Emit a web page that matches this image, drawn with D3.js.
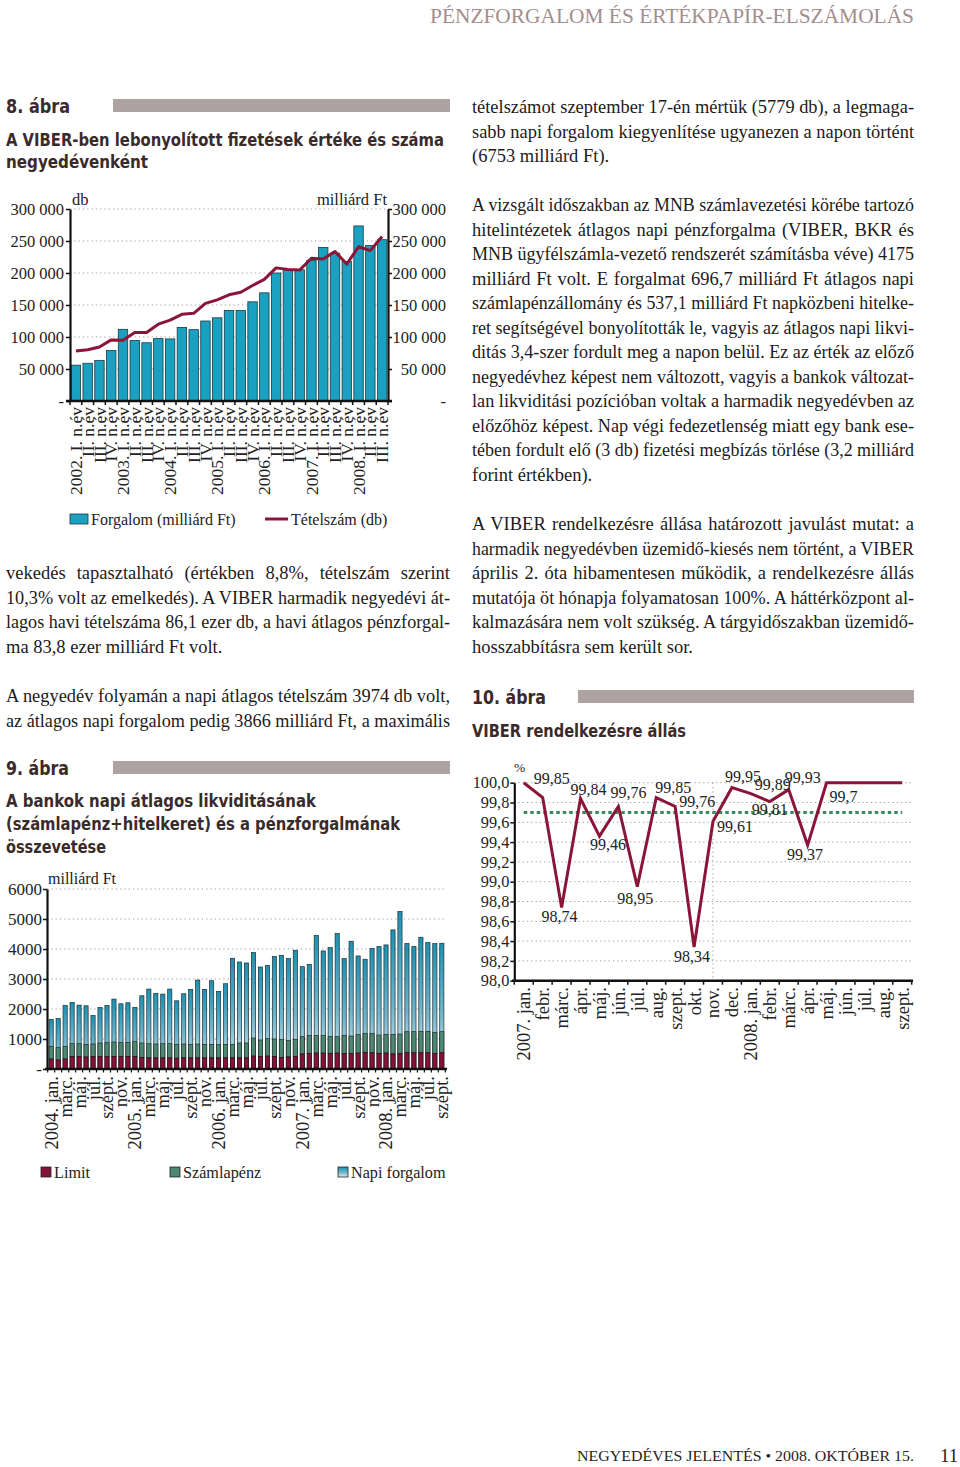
<!DOCTYPE html>
<html><head><meta charset="utf-8">
<script src="https://cdn.jsdelivr.net/npm/d3@7"></script>
<style>body{margin:0;background:#fff}svg{display:block}</style>
</head><body>
<svg id="page" width="960" height="1467"></svg>
<script>
// ---------------- DATA ----------------
// Chart 8 (quarterly)
const quarters = ["2002. I. n.év","II. n.év","III. n.év","IV. n.év","2003. I. n.év","II. n.év","III. n.év","IV. n.év",
  "2004. I. n.év","II. n.év","III. n.év","IV. n.év","2005. I. n.év","II. n.év","III. n.év","IV. n.év",
  "2006. I. n.év","II. n.év","III. n.év","IV. n.év","2007. I. n.év","II. n.év","III. n.év","IV. n.év",
  "2008. I. n.év","II. n.év","III. n.év"];
const forgalom = [56000,59000,63500,79000,112000,94500,91000,97500,97000,115000,111500,125000,130000,141500,141500,155000,
  169000,200000,205000,205000,219500,240000,231000,218000,273500,243000,252000];
const tetelszam = [78000,80000,84500,95500,95000,107000,107000,120000,126500,135500,137000,152500,158000,166000,170000,180500,
  190000,208000,205500,204500,223000,222000,233500,214000,241000,235000,257000];
const yTicks8 = [0,50000,100000,150000,200000,250000,300000];
const yTickLabels8 = ["-","50 000","100 000","150 000","200 000","250 000","300 000"];

// Chart 9 (monthly 2004 jan - 2008 szept)
const monthNames = ["jan.","febr.","márc.","ápr.","máj.","jún.","júl.","aug.","szept.","okt.","nov.","dec."];
const years9 = ["2004.","2005.","2006.","2007.","2008."];
const limit = [330,300,330,410,410,400,410,410,410,420,410,420,410,380,370,370,370,370,360,370,370,370,370,370,370,370,370,370,370,
  430,420,430,420,380,400,420,500,520,530,530,520,530,510,520,530,550,540,520,530,500,510,540,540,540,540,520,540];
const szamlapenz = [426,411,426,434,434,422,423,457,468,480,468,469,501,487,474,463,474,474,463,462,452,463,452,452,441,452,452,497,497,
  603,547,581,580,609,556,569,578,602,581,592,569,548,612,580,614,639,649,613,626,656,657,704,704,716,716,702,704];
const napiForgalom = [1650,1683,2118,2218,2129,2107,1784,2051,2118,2330,2174,2207,2051,2441,2664,2520,2497,2664,2274,2508,
  2653,2965,2653,2943,2586,2843,3690,3567,3534,3880,3400,3456,3746,3790,3679,3958,3411,3490,4448,3935,
  4047,4515,3679,4259,3768,3657,4013,4080,4136,4638,5251,4181,4080,4392,4214,4181,4192];
const yTicks9 = [0,1000,2000,3000,4000,5000,6000];
const yTickLabels9 = ["-","1000","2000","3000","4000","5000","6000"];

// Chart 10 (monthly availability)
const months10 = ["2007. jan.","febr.","márc.","ápr.","máj.","jún.","júl.","aug.","szept.","okt.","nov.","dec.",
  "2008. jan.","febr.","márc.","ápr.","máj.","jún.","júl.","aug.","szept."];
const availability = [100,99.85,98.74,99.84,99.46,99.76,98.95,99.85,99.76,98.34,99.61,99.95,99.89,99.81,99.93,99.37,100,100,100,100,100];
const valueLabels10 = [null,"99,85","98,74","99,84","99,46","99,76","98,95","99,85","99,76","98,34","99,61","99,95","99,89","99,81","99,93","99,37",null,null,null,null,null];
const target10 = 99.7;
const targetLabel10 = "99,7";
const yTicks10 = [98.0,98.2,98.4,98.6,98.8,99.0,99.2,99.4,99.6,99.8,100.0];

// Page text
const rightPara1 = ["tételszámot szeptember 17-én mértük (5779 db), a legmaga-","sabb napi forgalom kiegyenlítése ugyanezen a napon történt","(6753 milliárd Ft)."];
const rightPara2 = ["A vizsgált időszakban az MNB számlavezetési körébe tartozó","hitelintézetek átlagos napi pénzforgalma (VIBER, BKR és",
 "MNB ügyfélszámla-vezető rendszerét számításba véve) 4175","milliárd Ft volt. E forgalmat 696,7 milliárd Ft átlagos napi",
 "számlapénzállomány és 537,1 milliárd Ft napközbeni hitelke-","ret segítségével bonyolították le, vagyis az átlagos napi likvi-",
 "ditás 3,4-szer fordult meg a napon belül. Ez az érték az előző","negyedévhez képest nem változott, vagyis a bankok változat-",
 "lan likviditási pozícióban voltak a harmadik negyedévben az","előzőhöz képest. Nap végi fedezetlenség miatt egy bank ese-",
 "tében fordult elő (3 db) fizetési megbízás törlése (3,2 milliárd","forint értékben)."];
const rightPara3 = ["A VIBER rendelkezésre állása határozott javulást mutat: a","harmadik negyedévben üzemidő-kiesés nem történt, a VIBER",
 "április 2. óta hibamentesen működik, a rendelkezésre állás","mutatója öt hónapja folyamatosan 100%. A háttérközpont al-",
 "kalmazására nem volt szükség. A tárgyidőszakban üzemidő-","hosszabbításra sem került sor."];
const leftPara1 = ["vekedés tapasztalható (értékben 8,8%, tételszám szerint","10,3% volt az emelkedés). A VIBER harmadik negyedévi át-",
 "lagos havi tételszáma 86,1 ezer db, a havi átlagos pénzforgal-","ma 83,8 ezer milliárd Ft volt."];
const leftPara2 = ["A negyedév folyamán a napi átlagos tételszám 3974 db volt,","az átlagos napi forgalom pedig 3866 milliárd Ft, a maximális"];

// ---------------- HELPERS ----------------
const SERIF = "'Liberation Serif','Times New Roman',serif";
const HEAD = "'Liberation Sans Narrow','DejaVu Sans Condensed','Open Sans',sans-serif";
const BODY = 18.5, TICK = 16.5, XLAB = 18.5;
const svg = d3.select("#page");
svg.append("rect").attr("width",960).attr("height",1467).attr("fill","#fff");

function txt(g, str, x, y, o = {}) {
  const t = g.append("text").attr("x", x).attr("y", y).text(str)
    .attr("font-family", o.family || SERIF).attr("font-size", o.size || BODY)
    .attr("fill", o.fill || "#1d1a1a");
  if (o.weight) t.attr("font-weight", o.weight);
  if (o.anchor) t.attr("text-anchor", o.anchor);
  if (o.width) {
    const L = t.node().getComputedTextLength();
    const n = (str.match(/ /g) || []).length;
    if (o.fit || n === 0 || o.width - L < 0) {
      t.attr("textLength", o.width).attr("lengthAdjust", "spacingAndGlyphs");
    } else {
      t.attr("word-spacing", (o.width - L) / n);
    }
  }
  return t;
}
function para(lines, x, y0, width, lastJustified) {
  lines.forEach((s, i) => {
    const last = i === lines.length - 1 && !lastJustified;
    txt(svg, s, x, y0 + i * 24.5, last ? {} : { width: width });
  });
}
function heading(str, x, y, w, size) {
  txt(svg, str, x, y, { family: HEAD, weight: "bold", size: size || 18.5, fill: "#3a2b2b", width: w, fit: true });
}
function grayBar(x1, x2, y) {
  svg.append("rect").attr("x", x1).attr("y", y).attr("width", x2 - x1).attr("height", 13).attr("fill", "#aca3a2");
}
function bandEdges(sc) {
  const gap = sc.step() - sc.bandwidth();
  const d = sc.domain();
  const e = d.map(v => sc(v) - gap / 2);
  e.push(sc(d[d.length - 1]) + sc.bandwidth() + gap / 2);
  return e;
}

// ---------------- PAGE TEXT ----------------
txt(svg, "PÉNZFORGALOM ÉS ÉRTÉKPAPÍR-ELSZÁMOLÁS", 430, 23, { size: 21, fill: "#a38d8d", width: 484, fit: true });
para(rightPara1, 472, 113, 442);
para(rightPara2, 472, 211, 442);
para(rightPara3, 472, 530, 442);
para(leftPara1, 6, 579, 444);
para(leftPara2, 6, 702, 444, true);

grayBar(113, 450, 99);
heading("8. ábra", 6, 113, 64, 19.5);
heading("A VIBER-ben lebonyolított fizetések értéke és száma", 6, 146, 438);
heading("negyedévenként", 6, 168, 142);

grayBar(113, 450, 761);
heading("9. ábra", 6, 775, 63, 19.5);
heading("A bankok napi átlagos likviditásának", 6, 807, 310);
heading("(számlapénz+hitelkeret) és a pénzforgalmának", 6, 830, 394);
heading("összevetése", 6, 853, 100);

grayBar(578, 914, 690);
heading("10. ábra", 472, 704, 74, 19.5);
heading("VIBER rendelkezésre állás", 472, 737, 214);

txt(svg, "NEGYEDÉVES JELENTÉS • 2008. OKTÓBER 15.", 577, 1461, { size: 15.5, fill: "#2a2222", width: 337, fit: true });
txt(svg, "11", 940, 1462, { size: 19, fill: "#2a2222" });

function styleAxis(g, size) {
  g.selectAll("text").attr("font-family", SERIF).attr("font-size", size || TICK).attr("fill", "#222");
  g.selectAll(".tick line").attr("stroke", "#111").attr("stroke-width", 1.5);
  g.select(".domain").attr("stroke", "#111").attr("stroke-width", 2.2);
}

// ---------------- CHART 8 ----------------
{
  const g = svg.append("g");
  const x = d3.scaleBand().domain(d3.range(quarters.length)).range([70, 388]).paddingInner(0.2).paddingOuter(0.1);
  const y = d3.scaleLinear().domain([0, 300000]).range([401, 209]);
  g.selectAll("line.grid").data(yTicks8.filter(d => d > 0)).join("line")
    .attr("x1", 70).attr("x2", 388).attr("y1", d => y(d)).attr("y2", d => y(d))
    .attr("stroke", "#a0a0a0").attr("stroke-width", 1).attr("stroke-dasharray", "1.3,3");
  g.selectAll("rect.bar").data(forgalom).join("rect")
    .attr("x", (d, i) => x(i)).attr("width", x.bandwidth())
    .attr("y", d => y(d)).attr("height", d => y(0) - y(d))
    .attr("fill", "#1aa1c2").attr("stroke", "#1b3a42").attr("stroke-width", 0.8);
  g.append("path").datum(tetelszam)
    .attr("d", d3.line().x((d, i) => x(i) + x.bandwidth() / 2).y(d => y(d)))
    .attr("fill", "none").attr("stroke", "#8b1538").attr("stroke-width", 3).attr("stroke-linejoin", "round");
  const aL = g.append("g").attr("transform", "translate(70,0)")
    .call(d3.axisLeft(y).tickValues(yTicks8).tickFormat((d, i) => yTickLabels8[i]).tickSize(4).tickSizeOuter(0).tickPadding(2));
  styleAxis(aL);
  const aR = g.append("g").attr("transform", "translate(388,0)")
    .call(d3.axisRight(y).tickValues(yTicks8).tickFormat((d, i) => yTickLabels8[i]).tickSize(4).tickSizeOuter(0));
  styleAxis(aR);
  aR.selectAll("text").attr("text-anchor", "end").attr("x", 58);
  // bottom axis
  g.append("line").attr("x1", 66).attr("x2", 392).attr("y1", y(0)).attr("y2", y(0)).attr("stroke", "#111").attr("stroke-width", 2.5);
  g.selectAll("line.xt").data(bandEdges(x)).join("line")
    .attr("x1", d => d).attr("x2", d => d).attr("y1", y(0)).attr("y2", y(0) + 4).attr("stroke", "#111").attr("stroke-width", 1.5);
  g.selectAll("text.xl").data(quarters).join("text")
    .attr("transform", (d, i) => `translate(${x(i) + x.bandwidth() / 2},407) rotate(-90)`)
    .attr("text-anchor", "end").attr("dy", "0.35em")
    .attr("font-family", SERIF).attr("font-size", 17.5).attr("fill", "#222").text(d => d);
  txt(g, "db", 72, 205, { size: 16.5, fill: "#222" });
  txt(g, "milliárd Ft", 387, 205, { size: 16.5, fill: "#222", anchor: "end" });
  // legend
  g.append("rect").attr("x", 70).attr("y", 514).attr("width", 18).attr("height", 10)
    .attr("fill", "#1aa1c2").attr("stroke", "#1b3a42").attr("stroke-width", 0.8);
  txt(g, "Forgalom (milliárd Ft)", 91, 525, { size: 16, fill: "#222" });
  g.append("line").attr("x1", 265).attr("x2", 288).attr("y1", 519).attr("y2", 519).attr("stroke", "#8b1538").attr("stroke-width", 3);
  txt(g, "Tételszám (db)", 291, 525, { size: 16, fill: "#222" });
}

// ---------------- CHART 9 ----------------
{
  const defs = svg.append("defs");
  const grad = defs.append("linearGradient").attr("id", "blueGrad").attr("x1", 0).attr("y1", 0).attr("x2", 0).attr("y2", 1);
  grad.append("stop").attr("offset", 0).attr("stop-color", "#1c91b2");
  grad.append("stop").attr("offset", 0.55).attr("stop-color", "#6fb5cc");
  grad.append("stop").attr("offset", 1).attr("stop-color", "#dbecf3");
  const months9 = [];
  years9.forEach(yr => monthNames.forEach((m, k) => months9.push(k === 0 ? yr + " " + m : m)));
  months9.length = napiForgalom.length;
  const g = svg.append("g");
  const x = d3.scaleBand().domain(d3.range(napiForgalom.length)).range([47, 446]).paddingInner(0.4).paddingOuter(0.3);
  const y = d3.scaleLinear().domain([0, 6000]).range([1069, 889]);
  g.selectAll("line.grid").data(yTicks9.filter(d => d > 0)).join("line")
    .attr("x1", 47).attr("x2", 446).attr("y1", d => y(d)).attr("y2", d => y(d))
    .attr("stroke", "#a0a0a0").attr("stroke-width", 1).attr("stroke-dasharray", "1.3,3");
  g.selectAll("rect.nf").data(napiForgalom).join("rect")
    .attr("x", (d, i) => x(i)).attr("width", x.bandwidth()).attr("y", d => y(d)).attr("height", d => y(0) - y(d))
    .attr("fill", "url(#blueGrad)").attr("stroke", "#1e2e33").attr("stroke-width", 0.7);
  g.selectAll("rect.sz").data(szamlapenz).join("rect")
    .attr("x", (d, i) => x(i)).attr("width", x.bandwidth())
    .attr("y", (d, i) => y(limit[i] + d)).attr("height", (d, i) => y(limit[i]) - y(limit[i] + d))
    .attr("fill", "#4c8873").attr("stroke", "#1e2e2a").attr("stroke-width", 0.7);
  g.selectAll("rect.li").data(limit).join("rect")
    .attr("x", (d, i) => x(i)).attr("width", x.bandwidth()).attr("y", d => y(d)).attr("height", d => y(0) - y(d))
    .attr("fill", "#85123a").attr("stroke", "#2a0a12").attr("stroke-width", 0.7);
  const aL = g.append("g").attr("transform", "translate(47,0)")
    .call(d3.axisLeft(y).tickValues(yTicks9).tickFormat((d, i) => yTickLabels9[i]).tickSize(4).tickSizeOuter(0).tickPadding(1));
  styleAxis(aL, 17);
  g.append("line").attr("x1", 45).attr("x2", 447).attr("y1", y(0)).attr("y2", y(0)).attr("stroke", "#111").attr("stroke-width", 2.5);
  g.selectAll("line.xt").data(bandEdges(x)).join("line")
    .attr("x1", d => d).attr("x2", d => d).attr("y1", y(0)).attr("y2", y(0) + 3.5).attr("stroke", "#111").attr("stroke-width", 1.2);
  g.selectAll("text.xl").data(months9.map((m, i) => ({ m, i })).filter(d => d.i % 2 === 0)).join("text")
    .attr("transform", d => `translate(${x(d.i) + x.bandwidth() / 2},1076) rotate(-90)`)
    .attr("text-anchor", "end").attr("dy", "0.35em")
    .attr("font-family", SERIF).attr("font-size", XLAB).attr("fill", "#222").text(d => d.m);
  txt(g, "milliárd Ft", 48, 884, { size: 16, fill: "#222" });
  // legend
  const leg = [["Limit", "#85123a", 41], ["Számlapénz", "#4c8873", 170], ["Napi forgalom", "url(#blueGrad)", 338]];
  leg.forEach(([name, col, lx]) => {
    g.append("rect").attr("x", lx).attr("y", 1167).attr("width", 10).attr("height", 10)
      .attr("fill", col).attr("stroke", "#222").attr("stroke-width", 0.8);
    txt(g, name, lx + 13, 1178, { size: 16.2, fill: "#222" });
  });
}

// ---------------- CHART 10 ----------------
{
  const labelOffsets = [null,[9,-13.6],[-2,15],[8,-4],[8.5,14],[10,-8.5],[-2,17],[17,-4.5],[22,0.5],[-2,15],[22,11],[11,-6],[22,-3.6],[0,13.5],[14,-6.6],[-2.5,15],null,null,null,null,null];
  const g = svg.append("g");
  const xb = d3.scaleBand().domain(d3.range(months10.length)).range([514.3, 911.7]);
  const x = i => xb(i) + xb.bandwidth() / 2;
  const y = d3.scaleLinear().domain([98, 100]).range([980.7, 782.7]);
  g.selectAll("line.grid").data(yTicks10.filter(d => d > 98)).join("line")
    .attr("x1", 514).attr("x2", 912).attr("y1", d => y(d)).attr("y2", d => y(d))
    .attr("stroke", "#a0a0a0").attr("stroke-width", 1).attr("stroke-dasharray", "1.3,3");
  g.append("line").attr("x1", x(10)).attr("x2", x(10)).attr("y1", y(100)).attr("y2", y(98))
    .attr("stroke", "#a0a0a0").attr("stroke-width", 1).attr("stroke-dasharray", "1.3,3");
  g.append("line").attr("x1", x(0)).attr("x2", x(months10.length - 1)).attr("y1", y(target10)).attr("y2", y(target10))
    .attr("stroke", "#3a8a5e").attr("stroke-width", 3).attr("stroke-dasharray", "3.5,3");
  g.append("path").datum(availability)
    .attr("d", d3.line().x((d, i) => x(i)).y(d => y(d)))
    .attr("fill", "none").attr("stroke", "#8b1538").attr("stroke-width", 3).attr("stroke-linejoin", "miter");
  const aL = g.append("g").attr("transform", "translate(514.3,0)")
    .call(d3.axisLeft(y).tickValues(yTicks10).tickFormat(d => d3.format(".1f")(d).replace(".", ",")).tickSize(4).tickSizeOuter(0).tickPadding(1));
  styleAxis(aL, 16.3);
  g.append("line").attr("x1", 512).attr("x2", 913).attr("y1", y(98)).attr("y2", y(98)).attr("stroke", "#111").attr("stroke-width", 2.5);
  g.selectAll("line.xt").data(bandEdges(xb)).join("line")
    .attr("x1", d => d).attr("x2", d => d).attr("y1", y(98)).attr("y2", y(98) + 4).attr("stroke", "#111").attr("stroke-width", 1.5);
  g.selectAll("text.xl").data(months10).join("text")
    .attr("transform", (d, i) => `translate(${x(i)},987) rotate(-90)`)
    .attr("text-anchor", "end").attr("dy", "0.35em")
    .attr("font-family", SERIF).attr("font-size", XLAB).attr("fill", "#222").text(d => d);
  valueLabels10.forEach((lab, i) => {
    if (!lab) return;
    const o = labelOffsets[i];
    txt(g, lab, x(i) + o[0], y(availability[i]) + o[1], { size: 16, fill: "#222", anchor: "middle" });
  });
  txt(g, targetLabel10, 843.5, y(target10) - 10, { size: 16, fill: "#222", anchor: "middle" });
  txt(g, "%", 514, 772, { size: 13.5, fill: "#222" });
}
</script>
</body></html>
